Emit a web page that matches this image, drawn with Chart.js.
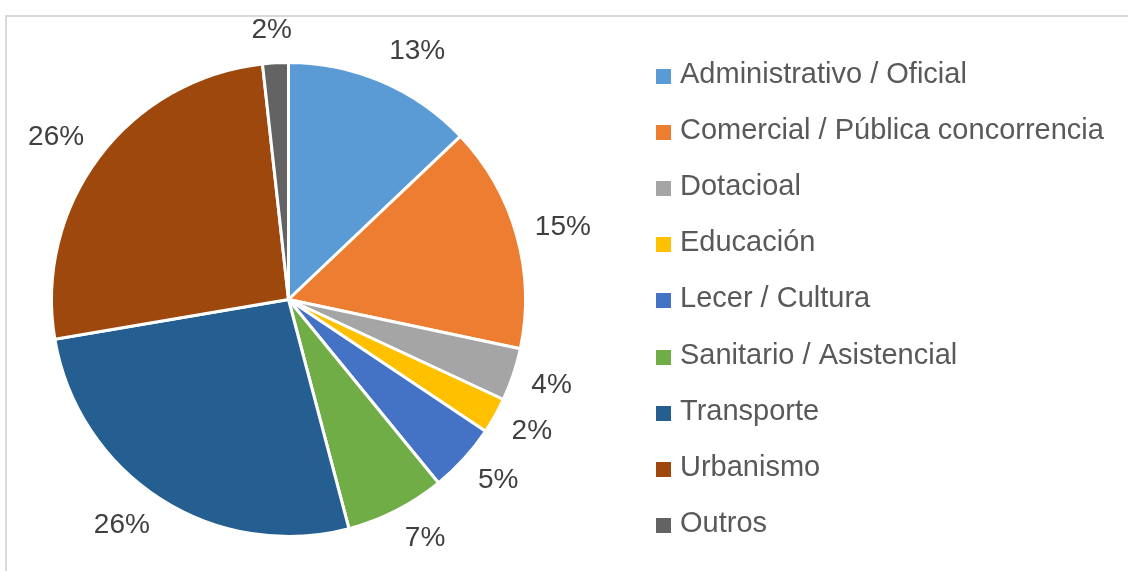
<!DOCTYPE html>
<html>
<head>
<meta charset="utf-8">
<script src="https://cdn.jsdelivr.net/npm/chart.js@4.4.1/dist/chart.umd.min.js"></script>
<style>
html,body{margin:0;padding:0;background:#fff;}
#wrap{position:relative;width:1128px;height:571px;overflow:hidden;background:#fff;}
#frame{position:absolute;left:5px;top:15px;width:1300px;height:800px;border-left:2px solid #d9d9d9;border-top:2px solid #d9d9d9;}
canvas{position:absolute;left:0;top:0;}
</style>
</head>
<body>
<div id="wrap"><div id="frame"></div><canvas id="c" width="1128" height="571"></canvas></div>
<script>
// ---- data ----
const categories = [
  'Administrativo / Oficial',
  'Comercial / Pública concorrencia',
  'Dotacioal',
  'Educación',
  'Lecer / Cultura',
  'Sanitario / Asistencial',
  'Transporte',
  'Urbanismo',
  'Outros'
];
const values = [12.9, 15.4, 3.6, 2.45, 4.7, 6.8, 26.4, 25.9, 1.75];
const colors = ['#5B9BD5', '#ED7D31', '#A5A5A5', '#FFC000', '#4472C4', '#70AD47', '#255E91', '#9E480E', '#636363'];

const LABEL_FONT = '28px "Liberation Sans", Arial, sans-serif';
const LEGEND_FONT = '29px "Liberation Sans", Arial, sans-serif';

const labelPlugin = {
  id: 'pctLabels',
  afterDatasetsDraw(chart) {
    const ctx = chart.ctx;
    const meta = chart.getDatasetMeta(0);
    const total = values.reduce((a, b) => a + b, 0);
    ctx.save();
    ctx.font = LABEL_FONT;
    ctx.fillStyle = '#404040';
    ctx.textAlign = 'center';
    ctx.textBaseline = 'alphabetic';
    meta.data.forEach((arc, i) => {
      const p = arc.getProps(['x', 'y', 'startAngle', 'endAngle', 'outerRadius'], true);
      const mid = (p.startAngle + p.endAngle) / 2;
      const ux = Math.cos(mid), uy = Math.sin(mid);
      const txt = Math.round(values[i] / total * 100) + '%';
      const hw = ctx.measureText(txt).width / 2;
      const hh = uy < 0 ? 15 : 11;
      const r = p.outerRadius + 19;
      const sx = Math.sign(ux) * Math.min(1, Math.abs(ux) * 2.5);
      const cx = p.x + ux * r + hw * sx;
      const cy = p.y + uy * r + hh * uy;
      ctx.fillText(txt, cx, cy + 9);
    });
    ctx.restore();
  }
};

const legendPlugin = {
  id: 'sideLegend',
  afterDraw(chart) {
    const ctx = chart.ctx;
    const bx = 656, top0 = 69, step = 56.1, box = 15, tx = 680;
    ctx.save();
    ctx.font = LEGEND_FONT;
    ctx.textAlign = 'left';
    ctx.textBaseline = 'alphabetic';
    chart.data.labels.forEach((lab, i) => {
      const t = Math.round(top0 + i * step);
      ctx.fillStyle = chart.data.datasets[0].backgroundColor[i];
      ctx.fillRect(bx, t, box, box);
      ctx.fillStyle = '#595959';
      ctx.fillText(lab, tx, t + 14);
    });
    ctx.restore();
  }
};

new Chart(document.getElementById('c'), {
  type: 'pie',
  data: {
    labels: categories,
    datasets: [{
      data: values,
      backgroundColor: colors,
      borderColor: '#ffffff',
      borderWidth: 3,
      hoverOffset: 0,
      offset: 0
    }]
  },
  options: {
    responsive: false,
    animation: false,
    events: [],
    layout: { padding: { left: 50, top: 61, right: 601, bottom: 33 } },
    plugins: { legend: { display: false }, tooltip: { enabled: false } }
  },
  plugins: [labelPlugin, legendPlugin]
});
</script>
</body>
</html>
